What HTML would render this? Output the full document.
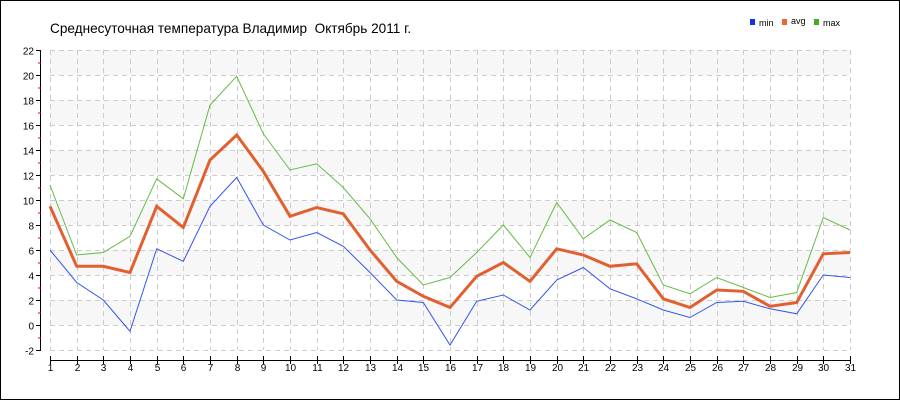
<!DOCTYPE html>
<html><head><meta charset="utf-8"><style>
html,body{margin:0;padding:0;background:#fff}
svg{display:block}
text{font-family:"Liberation Sans","DejaVu Sans",sans-serif}
</style></head><body>
<svg id="c" width="900" height="400" xmlns="http://www.w3.org/2000/svg"></svg>
<script>
const s=document.getElementById('c');let h='';
h+='<rect x="0.5" y="0.5" width="899" height="399" fill="#fff" stroke="#000"/>';
const X=d=>50+(d-1)*800/30, Y=v=>325-12.5*v;
for(let v=0;v<=20;v+=4)h+=`<rect x="50" y="${Y(v+2)}" width="800" height="25" fill="#f7f7f7"/>`;
for(let v=-2;v<=22;v+=2)h+=`<line x1="50" x2="850" y1="${Y(v)+.5}" y2="${Y(v)+.5}" stroke="#ccc" stroke-dasharray="5,4"/>`;
for(let d=1;d<=31;d++)h+=`<line x1="${Math.round(X(d))+.5}" x2="${Math.round(X(d))+.5}" y1="50" y2="350" stroke="#ccc" stroke-dasharray="5,4"/>`;
h+='<line x1="40.5" x2="40.5" y1="50" y2="350" stroke="#000"/>';
for(let v=-2;v<=22;v++){const y=Y(v)+.5;if(v%2==0){h+=`<line x1="36" x2="41" y1="${y}" y2="${y}" stroke="#000"/><text x="34" y="${y+4}" font-size="10" text-anchor="end">${v}</text>`}else h+=`<line x1="38" x2="41" y1="${y}" y2="${y}" stroke="#e00"/>`}
h+='<line x1="50" x2="850" y1="360.5" y2="360.5" stroke="#000"/>';
for(let d=1;d<=31;d++){const x=Math.round(X(d))+.5;h+=`<line x1="${x}" x2="${x}" y1="356" y2="364" stroke="#000"/><text x="${x}" y="371" font-size="10" text-anchor="middle">${d}</text>`}
const mx=[11.2,5.6,5.8,7.1,11.7,10.1,17.6,19.9,15.3,12.4,12.9,11.0,8.5,5.4,3.2,3.8,5.8,8.0,5.4,9.8,6.9,8.4,7.4,3.2,2.5,3.8,3.0,2.2,2.6,8.6,7.6];
const av=[9.5,4.7,4.7,4.2,9.5,7.8,13.2,15.2,12.3,8.7,9.4,8.9,6.0,3.5,2.3,1.4,3.9,5.0,3.5,6.1,5.6,4.7,4.9,2.1,1.4,2.8,2.7,1.5,1.8,5.7,5.8];
const mn=[6.0,3.4,2.0,-0.5,6.1,5.1,9.5,11.8,8.0,6.8,7.4,6.3,4.2,2.0,1.8,-1.6,1.9,2.4,1.2,3.6,4.6,2.9,2.1,1.2,0.6,1.8,1.9,1.3,0.9,4.0,3.8];
const P=a=>a.map((v,i)=>X(i+1).toFixed(1)+','+Y(v).toFixed(1)).join(' ');
h+=`<polyline points="${P(mx)}" fill="none" stroke="#66bb44" stroke-width="1"/>`;
h+=`<polyline points="${P(mn)}" fill="none" stroke="#3355ee" stroke-width="1"/>`;
h+=`<polyline points="${P(av)}" fill="none" stroke="#e26030" stroke-width="3"/>`;
h+='<text x="50" y="33" font-size="13.6" xml:space="preserve" style="white-space:pre">Среднесуточная температура Владимир  Октябрь 2011 г.</text>';
h+='<rect x="750" y="19" width="5" height="6" fill="#1133ee"/><text x="759" y="26" font-size="9">min</text>';
h+='<rect x="782" y="19" width="5" height="6" fill="#ee6633"/><text x="791" y="24" font-size="9">avg</text>';
h+='<rect x="814" y="19" width="5" height="6" fill="#44aa22"/><text x="823" y="26" font-size="9">max</text>';
s.innerHTML=h;
</script>
</body></html>
